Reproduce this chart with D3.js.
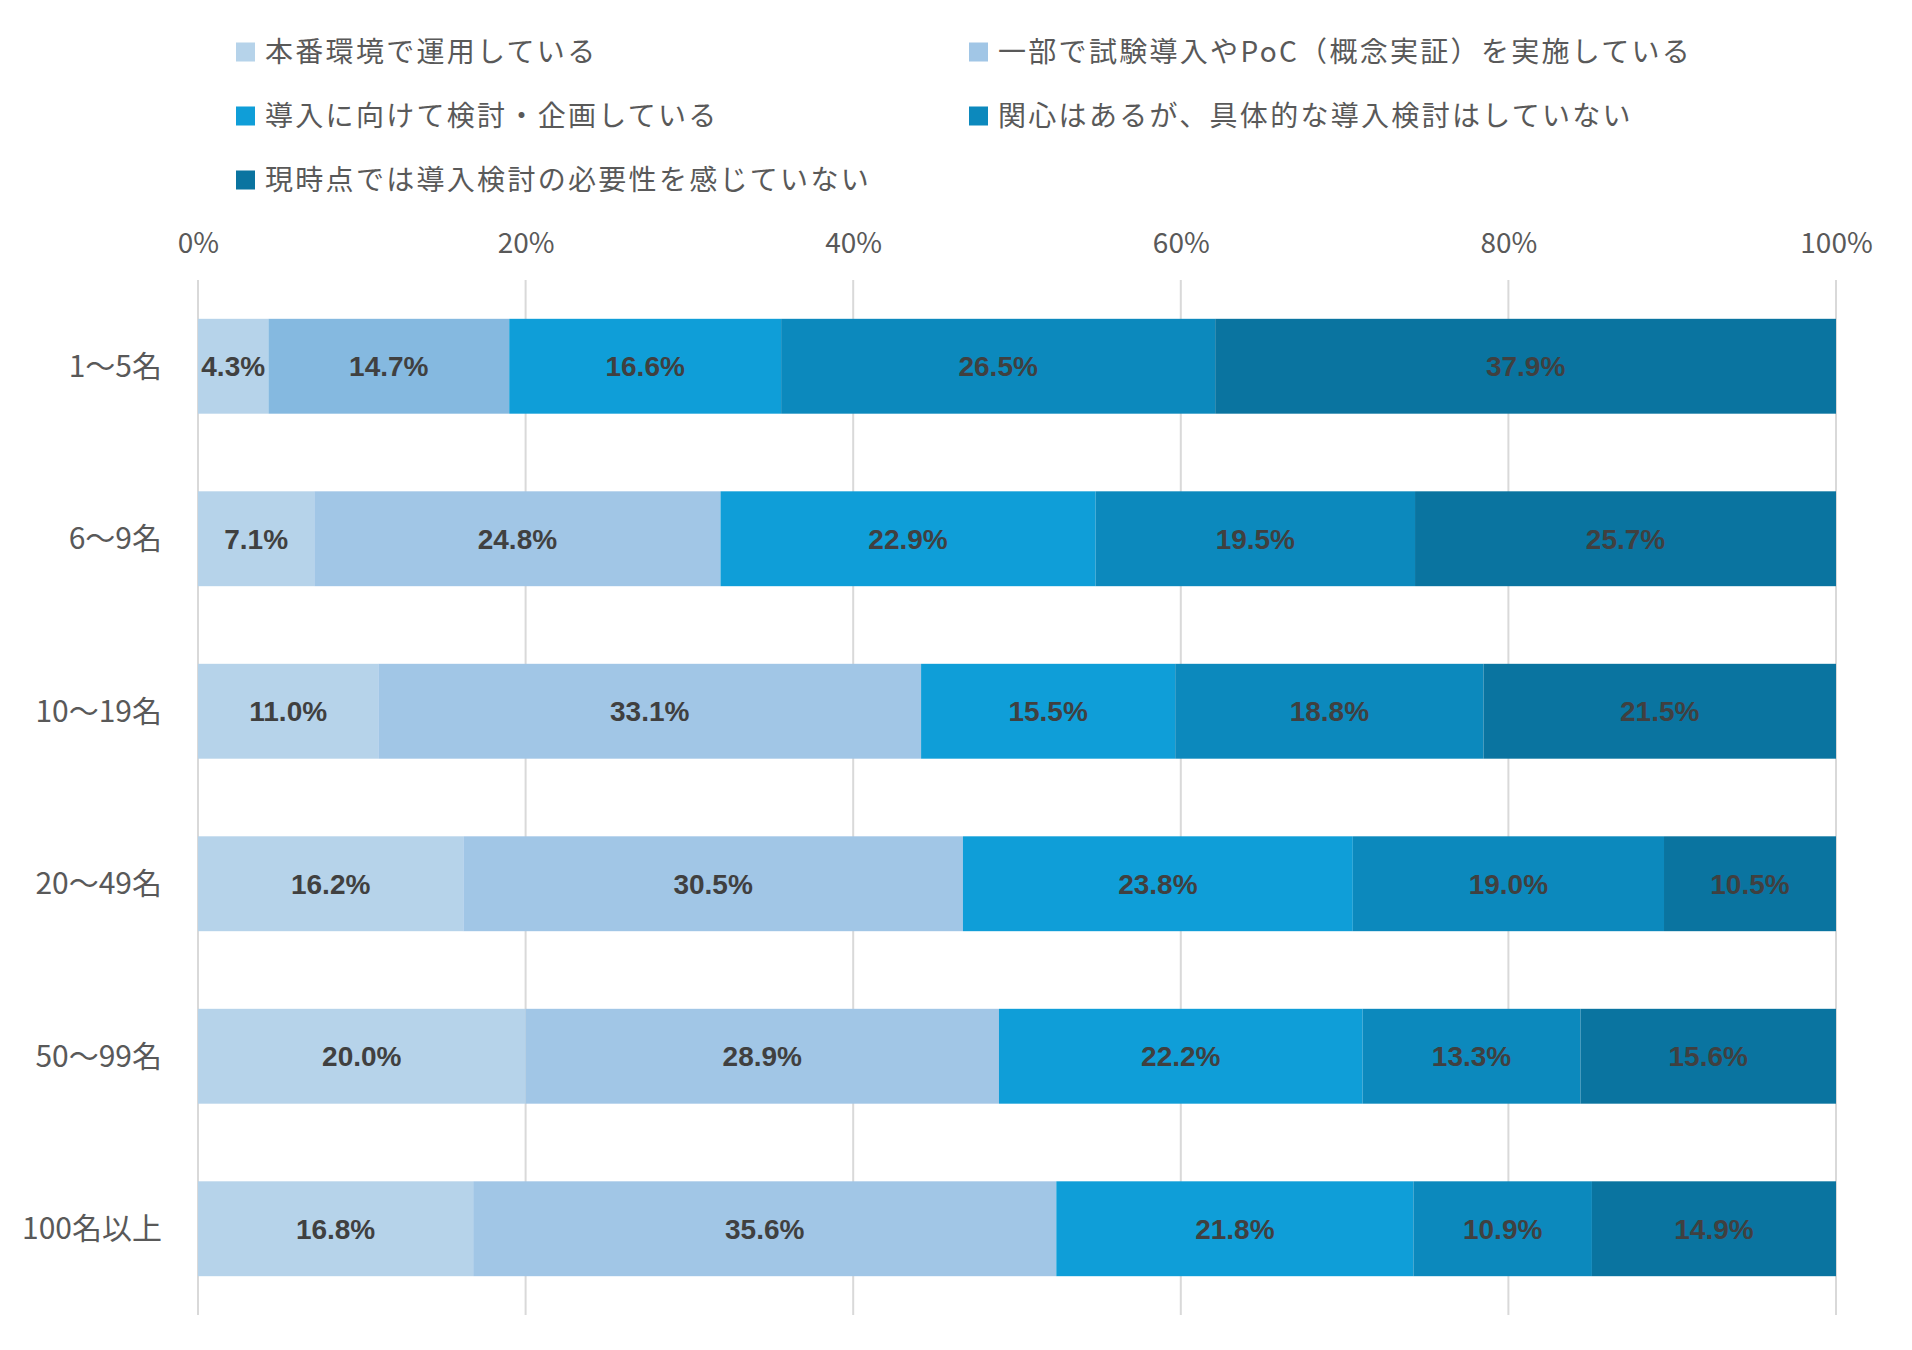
<!DOCTYPE html>
<html>
<head>
<meta charset="utf-8">
<script src="https://cdn.jsdelivr.net/npm/d3@7"></script>
<style>
  body { margin: 0; background: #fff; }
  svg { display: block; }
</style>
</head>
<body>
<svg id="chart" width="1912" height="1350"></svg>
<script>
// categories (company size) and series
var categories = ["1～5名", "6～9名", "10～19名", "20～49名", "50～99名", "100名以上"];
var seriesNames = [
  "本番環境で運用している",
  "一部で試験導入やPoC（概念実証）を実施している",
  "導入に向けて検討・企画している",
  "関心はあるが、具体的な導入検討はしていない",
  "現時点では導入検討の必要性を感じていない"
];
var s1 = [4.3, 7.1, 11.0, 16.2, 20.0, 16.8];
var s2 = [14.7, 24.8, 33.1, 30.5, 28.9, 35.6];
var s3 = [16.6, 22.9, 15.5, 23.8, 22.2, 21.8];
var s4 = [26.5, 19.5, 18.8, 19.0, 13.3, 10.9];
var s5 = [37.9, 25.7, 21.5, 10.5, 15.6, 14.9];
var tickValues = [0, 0.2, 0.4, 0.6, 0.8, 1];

var colors = ["#b6d3ea", "#a1c6e6", "#0f9ed8", "#0c89bd", "#0a74a0"];

var svg = d3.select("#chart");
var margin = { left: 198, right: 76, top: 280, bottom: 35 };
var W = 1912, H = 1350;

var x = d3.scaleLinear().domain([0, 1]).range([margin.left, W - margin.right]);
var y = d3.scaleBand().domain(categories)
  .range([margin.top, H - margin.bottom])
  .paddingInner(0.45).paddingOuter(0.225);

// build stacked table (100% stacked, like the original)
var table = categories.map(function (c, i) {
  return { cat: c, v: [s1[i], s2[i], s3[i], s4[i], s5[i]] };
});
var keys = [0, 1, 2, 3, 4];
var stack = d3.stack().keys(keys)
  .value(function (d, k) { return d.v[k]; })
  .offset(d3.stackOffsetExpand);
var layers = stack(table);

// gridlines
svg.append("g").selectAll("line").data(tickValues).enter().append("line")
  .attr("x1", function (d) { return x(d); })
  .attr("x2", function (d) { return x(d); })
  .attr("y1", margin.top)
  .attr("y2", H - margin.bottom)
  .attr("stroke", "#d9d9d9")
  .attr("stroke-width", 2);

// top axis labels
var xAxis = d3.axisTop(x).tickValues(tickValues)
  .tickFormat(d3.format(".0%"))
  .tickSize(0).tickPadding(0);
var gx = svg.append("g").attr("transform", "translate(0,253)").call(xAxis);
gx.select(".domain").remove();
gx.selectAll("text")
  .attr("fill", "#595959")
  .style("font-family", "'Noto Sans CJK JP', 'Noto Sans', sans-serif")
  .style("font-size", "28px");

// category labels
var yAxis = d3.axisLeft(y).tickSize(0).tickPadding(36);
var gy = svg.append("g").attr("transform", "translate(" + margin.left + ",0)").call(yAxis);
gy.select(".domain").remove();
gy.selectAll("text")
  .attr("fill", "#595959")
  .attr("dy", "0.35em")
  .style("font-family", "'Noto Sans CJK JP', sans-serif")
  .style("font-size", "30px");

// bars
var groups = svg.append("g").selectAll("g").data(layers).enter().append("g")
  .attr("fill", function (d, i) { return colors[i]; });

groups.selectAll("rect").data(function (d) { return d; }).enter().append("rect")
  .attr("x", function (d) { return x(d[0]); })
  .attr("y", function (d) { return y(d.data.cat); })
  .attr("width", function (d) { return x(d[1]) - x(d[0]); })
  .attr("height", y.bandwidth())
  .attr("fill", function (d, i) {
    // first row second segment is a bit darker in the original
    var k = d3.select(this.parentNode).datum().key;
    if (k === 1 && i === 0) return "#85b9e0";
    return null;
  });

// value labels
groups.selectAll("text").data(function (d) {
    var k = d.key;
    return d.map(function (p) { return { p: p, val: p.data.v[k] }; });
  }).enter().append("text")
  .attr("x", function (d) { return (x(d.p[0]) + x(d.p[1])) / 2; })
  .attr("y", function (d) { return y(d.p.data.cat) + y.bandwidth() / 2; })
  .attr("dy", "0.36em")
  .attr("text-anchor", "middle")
  .attr("fill", "#404040")
  .style("font-family", "'Liberation Sans', Arial, sans-serif")
  .style("font-weight", "bold")
  .style("font-size", "28px")
  .text(function (d) { return d.val.toFixed(1) + "%"; });

// legend
var legendPos = [
  { x: 236, y: 52 }, { x: 969, y: 52 },
  { x: 236, y: 116 }, { x: 969, y: 116 },
  { x: 236, y: 180 }
];
var legend = svg.append("g").selectAll("g").data(seriesNames).enter().append("g")
  .attr("transform", function (d, i) { return "translate(" + legendPos[i].x + "," + legendPos[i].y + ")"; });
legend.append("rect")
  .attr("x", 0).attr("y", -9.5).attr("width", 19).attr("height", 19)
  .attr("fill", function (d, i) { return colors[i]; });
legend.append("text")
  .attr("x", 29).attr("dy", "0.36em")
  .attr("fill", "#595959")
  .style("font-family", "'Noto Sans CJK JP', sans-serif")
  .style("font-size", "28px")
  .style("letter-spacing", "2.3px")
  .text(function (d) { return d; });
</script>
</body>
</html>
